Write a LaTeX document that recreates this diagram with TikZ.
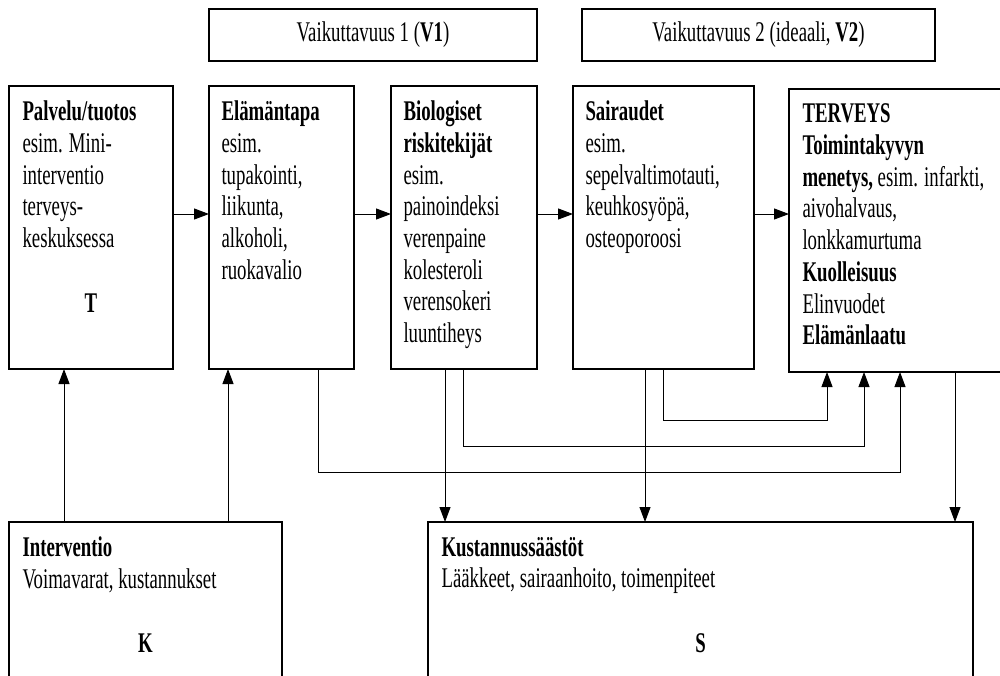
\documentclass[tikz,border=0pt]{standalone}
\usepackage{fontspec}
\setmainfont{Liberation Serif}[FakeStretch=0.66]
\usetikzlibrary{positioning, arrows.meta}

\begin{document}
\begin{tikzpicture}[
    x=1pt, y=-1pt, line width=1pt,
    every node/.style={font=\fontsize{28.5}{31.7}\selectfont},
    ]
    \tikzstyle{box}=[draw, line width=1.4pt, inner sep=0pt, outer sep=0pt, minimum height=283pt]
    \tikzstyle{txt}=[anchor=north west, align=left, inner sep=0pt]
    \tikzstyle{letter}=[anchor=base, inner sep=0pt]
    \tikzstyle{arr}=[-{Triangle[length=15pt, width=11pt]}]
    \useasboundingbox (0,0) rectangle (1000,675);
    \clip (0,0) rectangle (1000,675);
    % top labels
    \node[box, minimum width=328pt, minimum height=52pt, anchor=north west] (v1) at (209,9) {Vaikuttavuus 1 (\textbf{V1})};
    \node[box, minimum width=353pt, minimum height=52pt, anchor=north west] (v2) at (582,9) {Vaikuttavuus 2 (ideaali, \textbf{V2})};
    % chain
    \node[box, minimum width=164pt, anchor=north west] (palvelu) at (9,86) {};
    \node[box, minimum width=145pt] (elama) [right=36pt of palvelu] {};
    \node[box, minimum width=146pt] (bio) [right=37pt of elama] {};
    \node[box, minimum width=181pt] (saira) [right=36pt of bio] {};
    \node[box, minimum width=240pt] (terveys) [right=35pt of saira, yshift=-3pt] {};
    % bottom
    \node[box, minimum width=273pt, minimum height=200pt, anchor=north west] (interv) at (9,522) {};
    \node[box, minimum width=545pt, minimum height=200pt, anchor=north west] (kust) at (428,522) {};

    \node[txt] (palvelutxt) at ([xshift=13pt, yshift=-14.5pt]palvelu.north west) {\textbf{Palvelu/tuotos}\\esim. Mini-\\interventio\\terveys-\\keskuksessa};
    \node[letter] (tlabel) at ([yshift=-226pt]palvelu.north) {\textbf{T}};
    \node[txt] (elamatxt) at ([xshift=12pt, yshift=-14.5pt]elama.north west) {\textbf{Elämäntapa}\\esim.\\tupakointi,\\liikunta,\\alkoholi,\\ruokavalio};
    \node[txt] (biotxt) at ([xshift=12pt, yshift=-14.5pt]bio.north west) {\textbf{Biologiset}\\\textbf{riskitekijät}\\esim.\\painoindeksi\\verenpaine\\kolesteroli\\verensokeri\\luuntiheys};
    \node[txt] (sairatxt) at ([xshift=12pt, yshift=-14.5pt]saira.north west) {\textbf{Sairaudet}\\esim.\\sepelvaltimotauti,\\keuhkosyöpä,\\osteoporoosi};
    \node[txt] (terveystxt) at ([xshift=13pt, yshift=-14.5pt]terveys.north west) {\textbf{TERVEYS}\\\textbf{Toimintakyvyn}\\\textbf{menetys,} esim. infarkti,\\aivohalvaus,\\lonkkamurtuma\\\textbf{Kuolleisuus}\\Elinvuodet\\\textbf{Elämänlaatu}};
    \node[txt] (intervtxt) at ([xshift=13pt, yshift=-14.5pt]interv.north west) {\textbf{Interventio}\\Voimavarat, kustannukset};
    \node[letter] (klabel) at ([yshift=-130pt]interv.north) {\textbf{K}};
    \node[txt] (kusttxt) at ([xshift=13pt, yshift=-14.5pt]kust.north west) {\textbf{Kustannussäästöt}\\Lääkkeet, sairaanhoito, toimenpiteet};
    \node[letter] (slabel) at ([yshift=-130pt]kust.north) {\textbf{S}};

    \draw[arr] ([yshift=13.5pt]palvelu.east) -- ([yshift=13.5pt]elama.west);
    \draw[arr] ([yshift=13.5pt]elama.east) -- ([yshift=13.5pt]bio.west);
    \draw[arr] ([yshift=13.5pt]bio.east) -- ([yshift=13.5pt]saira.west);
    \coordinate (s1) at ([yshift=13.5pt]saira.east);
    \draw[arr] (s1) -- (s1 -| terveys.west);

    \coordinate (i1) at ([xshift=55pt]interv.north west);
    \coordinate (i2) at ([xshift=219pt]interv.north west);
    \draw[arr] (i1) -- (i1 |- palvelu.south);
    \draw[arr] (i2) -- (i2 |- elama.south);

    \draw[arr] ([xshift=109pt]elama.south west) -- ++(0,103) -| ([xshift=111pt]terveys.south west);
    \draw[arr] ([xshift=72pt]bio.south west) -- ++(0,77) -| ([xshift=75pt]terveys.south west);
    \draw[arr] ([xshift=90pt]saira.south west) -- ++(0,51) -| ([xshift=38pt]terveys.south west);

    \coordinate (d1) at ([xshift=54pt]bio.south west);
    \coordinate (d2) at ([xshift=72pt]saira.south west);
    \coordinate (d3) at ([xshift=166pt]terveys.south west);
    \draw[arr] (d1) -- (d1 |- kust.north);
    \draw[arr] (d2) -- (d2 |- kust.north);
    \draw[arr] (d3) -- (d3 |- kust.north);
\end{tikzpicture}
\end{document}
